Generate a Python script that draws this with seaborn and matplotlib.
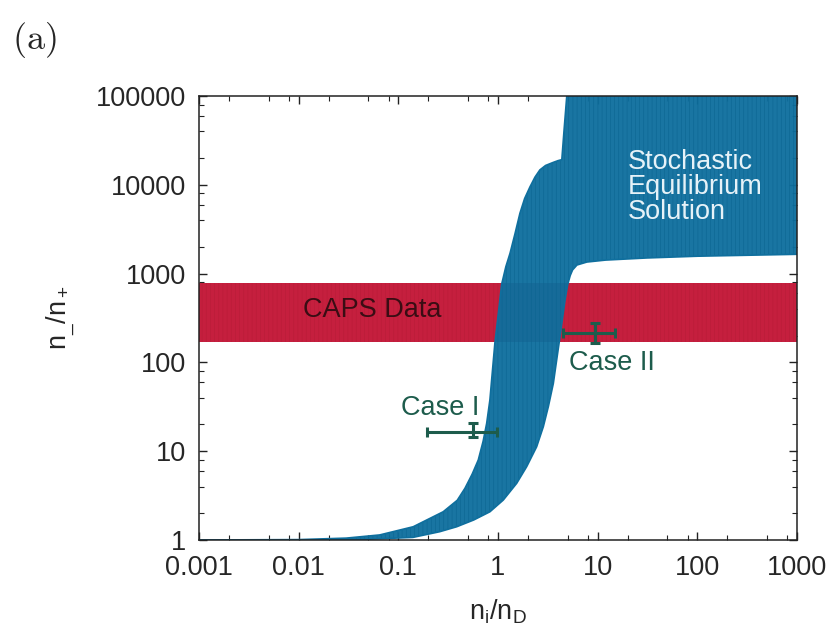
import numpy as np
import pandas as pd
import matplotlib
matplotlib.use("Agg")
import matplotlib.pyplot as plt
import seaborn as sns
from matplotlib.ticker import LogLocator, FixedLocator, NullFormatter

# ---- data ----
# upper (left) boundary of the stochastic equilibrium band
upper_x = [0.001, 0.01, 0.03, 0.065, 0.141, 0.282, 0.39, 0.466, 0.55, 0.634,
           0.71, 0.77, 0.83, 0.863, 0.93, 1.0, 1.09, 1.2, 1.32, 1.48, 1.66,
           1.85, 2.09, 2.35, 2.63, 3.0, 3.55, 4.0, 4.37, 4.6, 4.9, 5.2, 1000]
upper_y = [1.0, 1.01, 1.05, 1.14, 1.41, 2.08, 2.8, 3.82, 5.5, 7.96,
           13.0, 20.6, 38, 63, 164, 330, 764, 1200, 1690, 2800, 4780,
           7000, 9440, 12200, 14700, 16500, 17800, 18700, 19200, 41000,
           100000, 1e6, 1e6]
# lower (right) boundary of the band
lower_x = [0.001, 0.02, 0.05, 0.14, 0.26, 0.385, 0.57, 0.83, 1.13, 1.54, 1.94,
           2.44, 2.85, 3.2, 3.59, 4.1, 4.7, 5.0, 5.3, 5.6, 6.2, 7.8, 12, 31,
           100, 1000]
lower_y = [1.0, 1.0, 1.02, 1.07, 1.24, 1.41, 1.68, 2.08, 2.82, 4.35, 6.7,
           11.2, 18.9, 31.8, 58, 165, 500, 750, 950, 1100, 1250, 1350, 1420,
           1500, 1570, 1650]

# CAPS data band
caps_x = [0.001, 1000]
caps_low = [170, 170]
caps_high = [780, 780]

# measured cases
case_names = ["Case I", "Case II"]
case_x = [0.56, 9.3]
case_y = [16.5, 214]
case_xlo = [0.195, 4.5]
case_xhi = [0.98, 14.8]
case_ylo = [14.5, 166]
case_yhi = [20.8, 277]

xticks = [0.001, 0.01, 0.1, 1, 10, 100, 1000]
xticklabels = ["0.001", "0.01", "0.1", "1", "10", "100", "1000"]
yticks = [1, 10, 100, 1000, 10000, 100000]
yticklabels = ["1", "10", "100", "1000", "10000", "100000"]

# ---- styling ----
sns.set_style("ticks")
plt.rcParams["font.family"] = ["Liberation Sans", "DejaVu Sans"]
plt.rcParams["mathtext.fontset"] = "custom"
plt.rcParams["mathtext.rm"] = "Liberation Sans"
plt.rcParams["mathtext.it"] = "Liberation Sans"
plt.rcParams["hatch.linewidth"] = 0.4

BLUE = "#0f6f9e"
RED = "#c51f3e"
GREEN = "#1d5c4c"
FS = 19.5

fig = plt.figure(figsize=(8.36, 6.31), dpi=100)
ax = fig.add_axes([199 / 836, 1 - 540 / 631, 598 / 836, 444 / 631])
ax.set_xscale("log")
ax.set_yscale("log")

# CAPS band
ax.fill_between(caps_x, caps_low, caps_high, facecolor=RED, edgecolor="#b81c38",
                hatch="||||", linewidth=0, zorder=1)

# stochastic band polygon
poly_x = np.concatenate([upper_x, lower_x[::-1]])
poly_y = np.concatenate([upper_y, lower_y[::-1]])
ax.fill(poly_x, poly_y, facecolor=BLUE, edgecolor="#0b6591", hatch="||||",
        linewidth=0, alpha=0.96, zorder=2)

df_u = pd.DataFrame({"x": upper_x, "y": upper_y})
df_l = pd.DataFrame({"x": lower_x, "y": lower_y})
sns.lineplot(data=df_u, x="x", y="y", ax=ax, color=BLUE, lw=1.2, zorder=3,
             sort=False, estimator=None)
sns.lineplot(data=df_l, x="x", y="y", ax=ax, color=BLUE, lw=1.2, zorder=3,
             sort=False, estimator=None)

# error bars
for i in range(len(case_x)):
    ax.errorbar([case_x[i]], [case_y[i]],
                xerr=[[case_x[i] - case_xlo[i]], [case_xhi[i] - case_x[i]]],
                yerr=[[case_y[i] - case_ylo[i]], [case_yhi[i] - case_y[i]]],
                fmt="none", ecolor=GREEN, elinewidth=2.2, capsize=3.5,
                capthick=2.2, zorder=5)

# texts
ax.text(0.011, 390, "CAPS Data", fontsize=FS, color="#3a0d14",
        va="center", ha="left", zorder=6)
ax.text(0.26, 31, "Case I", fontsize=FS, color=GREEN, va="center",
        ha="center", zorder=6)
ax.text(13.9, 98, "Case II", fontsize=FS, color=GREEN, va="center",
        ha="center", zorder=6)
ax.text(20, 9440, "Stochastic\nEquilibrium\nSolution", fontsize=FS,
        color="#e6f2f8", va="center", ha="left", linespacing=0.95, zorder=6)

ax.set_xlim(0.001, 1000)
ax.set_ylim(1, 100000)
ax.xaxis.set_major_locator(FixedLocator(xticks))
ax.set_xticklabels(xticklabels)
ax.yaxis.set_major_locator(FixedLocator(yticks))
ax.set_yticklabels(yticklabels)
ax.xaxis.set_minor_locator(LogLocator(base=10, subs=(2, 5, 8), numticks=20))
ax.yaxis.set_minor_locator(LogLocator(base=10, subs=(2, 4, 6, 8), numticks=20))
ax.xaxis.set_minor_formatter(NullFormatter())
ax.yaxis.set_minor_formatter(NullFormatter())
ax.tick_params(which="both", direction="in", top=True, right=True,
               labelsize=FS, color="#222222")
ax.tick_params(axis="x", which="major", pad=11)
ax.tick_params(axis="y", which="major", pad=9)
ax.tick_params(which="major", length=6, width=1)
ax.tick_params(which="minor", length=3.5, width=0.8)
for s in ax.spines.values():
    s.set_linewidth(1.1)
    s.set_color("#222222")
    s.set_zorder(10)

ax.set_xlabel(r"$\mathregular{n_i/n_D}$", fontsize=FS, labelpad=12)
ax.set_ylabel(r"$\mathregular{n_{\_}/n_+}$", fontsize=FS, labelpad=14)

fig.text(12 / 836, 1 - 40 / 631, r"$\mathrm{(a)}$", fontsize=26,
         math_fontfamily="cm", va="center", ha="left")

fig.savefig("out.png", dpi=100)
